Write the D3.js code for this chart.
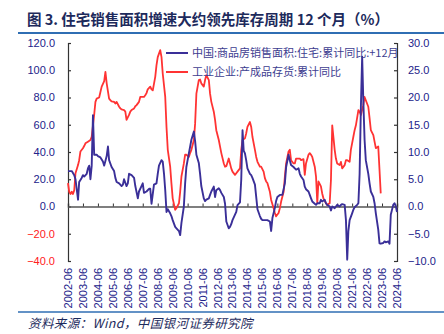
<!DOCTYPE html>
<meta charset="utf-8">
<style>
body { margin: 0; background: #fff; }
svg { display: block; }
.tick-label { font-family: "Liberation Sans", Arial, sans-serif; font-size: 11px; fill: #22228a; }
.cjk { font-family: "Noto Sans CJK SC", sans-serif; }
</style>
<body>
<script src="https://d3js.org/d3.v7.min.js"></script>
<script>

// ---- data ----
// housing sales area, cumulative yoy, shifted +12 months (left axis, %)
var blueDates = ["2002-06","2002-09","2002-11","2002-12","2003-02","2003-03","2003-05","2003-06","2003-07","2003-09","2003-10","2003-11","2003-12",
  "2004-01","2004-02","2004-03","2004-05","2004-06","2004-08","2004-10","2004-11","2005-01","2005-02","2005-03","2005-05","2005-07","2005-08","2005-09","2005-11",
  "2006-01","2006-02","2006-03","2006-05","2006-06","2006-07","2006-09","2006-11","2006-12","2007-02","2007-03","2007-05","2007-06","2007-07","2007-09","2007-11","2007-12",
  "2008-01","2008-03","2008-05","2008-06","2008-07","2008-09","2008-10","2008-11","2008-12","2009-01","2009-02","2009-04","2009-05","2009-06","2009-08","2009-09","2009-11","2009-12",
  "2010-01","2010-03","2010-04","2010-05","2010-07","2010-08","2010-09","2010-11","2010-12","2011-01","2011-03","2011-04","2011-05","2011-07","2011-08","2011-09","2011-11","2011-12",
  "2012-01","2012-03","2012-04","2012-05","2012-07","2012-08","2012-09","2012-11","2012-12","2013-01","2013-03","2013-04","2013-05","2013-06","2013-08","2013-09","2013-10","2013-12",
  "2014-01","2014-02","2014-03","2014-04","2014-05","2014-06","2014-08","2014-09","2014-10","2014-12","2015-01","2015-02","2015-04","2015-05","2015-06","2015-08","2015-09","2015-10","2015-12",
  "2016-01","2016-02","2016-04","2016-05","2016-06","2016-08","2016-09","2016-10","2016-12","2017-01","2017-03","2017-04","2017-05","2017-07","2017-08","2017-09","2017-11","2017-12",
  "2018-01","2018-03","2018-04","2018-05","2018-07","2018-08","2018-09","2018-10","2018-12","2019-01","2019-02","2019-04","2019-05","2019-06","2019-08","2019-09","2019-10","2019-12",
  "2020-01","2020-02","2020-04","2020-05","2020-06","2020-08","2020-09","2020-10","2020-12","2021-01","2021-02","2021-03","2021-04","2021-06","2021-07","2021-08","2021-10","2021-11","2021-12",
  "2022-01","2022-02","2022-03","2022-04","2022-05","2022-07","2022-08","2022-09","2022-11","2022-12","2023-01","2023-03","2023-04","2023-05","2023-07","2023-08","2023-09","2023-11","2023-12",
  "2024-01","2024-03","2024-04","2024-05","2024-06"];
var blueValues = [26,26,23,20,5,18,21,23,22,24,28,30,20,
  30,67,38,38,37,36,33,30,37,44,34,29,26,21,18,17,
  15,16,20,15,17,24,23,21,15,6,11,15,17,10,11,13,13,
  2,16,17,24,30,34,33,24,12,-4,-2,-5,-7,-10,-15,-16,-18,-21,
  -12,0,17,29,39,44,49,55,48,38,32,24,15,6,4,5,6,8.5,
  11,14.6,7,12,13.4,12,10,7,2,-11,-16,-15,-13,-10,-6,-4,1,3,
  20,56,41,39,34,28,24,23,21,16,7,-2,-7,-9,-10,-10,-10,-10,-11,
  -18,-8.5,-1,4,7,8.5,8.5,8.5,17,29,38,34,30.5,29,28,27,28,24,
  22,19.5,14.6,12.7,11,8.5,6,3.7,2,1.2,2.4,2.4,4.9,3.7,4.9,2.4,1.2,0,
  -2.9,0,-1.2,0,1.2,0,1.2,1.7,1.2,-10,-39,-18,-10,-5,-2.4,-0.5,1.2,2.4,24,
  73,110,78,49,34,24,17,11,7,2.4,-5,-17,-27,-27.3,-26.8,-25.6,-26.3,-25.6,-27.3,
  -6,1.2,2.4,0.5,-4];

// industrial finished goods inventory, cumulative yoy (right axis, %)
var redDates = ["2002-06","2002-07","2002-08","2002-09","2002-10","2002-11","2002-12","2003-02","2003-03","2003-04","2003-06","2003-07","2003-08","2003-10","2003-12",
  "2004-01","2004-03","2004-04","2004-05","2004-07","2004-08","2004-09","2004-11","2004-12","2005-01","2005-03","2005-04","2005-05","2005-07","2005-08","2005-09","2005-11","2005-12",
  "2006-01","2006-03","2006-04","2006-05","2006-07","2006-08","2006-09","2006-11","2006-12","2007-01","2007-03","2007-04","2007-05","2007-07","2007-08","2007-09","2007-10","2007-12",
  "2008-01","2008-02","2008-04","2008-05","2008-06","2008-08","2008-09","2008-10","2008-12","2009-01","2009-02","2009-04","2009-05","2009-06","2009-08","2009-09","2009-11","2009-12",
  "2010-01","2010-03","2010-04","2010-05","2010-07","2010-08","2010-09","2010-11","2010-12","2011-01","2011-03","2011-04","2011-05","2011-07","2011-08","2011-09","2011-11","2011-12",
  "2012-01","2012-03","2012-04","2012-05","2012-07","2012-08","2012-09","2012-11","2012-12","2013-01","2013-03","2013-04","2013-05","2013-06","2013-08","2013-09","2013-10","2013-12",
  "2014-01","2014-02","2014-04","2014-05","2014-06","2014-08","2014-09","2014-10","2014-12","2015-01","2015-02","2015-04","2015-05","2015-07","2015-08","2015-09","2015-10","2015-12",
  "2016-01","2016-03","2016-04","2016-05","2016-07","2016-08","2016-09","2016-11","2016-12","2017-01","2017-03","2017-04","2017-05","2017-07","2017-08","2017-09","2017-11","2017-12",
  "2018-01","2018-03","2018-04","2018-05","2018-07","2018-08","2018-09","2018-10","2018-12","2019-01","2019-02","2019-03","2019-05","2019-06","2019-07","2019-09","2019-10","2019-12",
  "2020-01","2020-02","2020-04","2020-05","2020-06","2020-08","2020-09","2020-10","2020-12","2021-01","2021-02","2021-04","2021-05","2021-07","2021-08","2021-09","2021-11","2021-12",
  "2022-01","2022-03","2022-04","2022-05","2022-07","2022-08","2022-09","2022-11","2022-12","2023-01","2023-03","2023-04","2023-05"];
var redValues = [4.3,2.7,2.3,2.7,2.3,3.0,6.1,7.6,8.5,10.1,10.7,11.1,11.6,11.9,12.2,
  12.8,16.8,19.2,19.8,20,21,22,23,24.7,22.6,19.8,19.5,19.3,19.2,18.9,19.2,18.3,18,
  17.8,17.7,17.4,15.9,16.8,17.4,17.7,18,18.4,18.6,19.2,20.1,20.1,20.1,20.4,20.8,21.5,22,
  21.5,21.3,23.8,25.9,27.4,28.7,27.4,24.4,20.1,14.6,10.4,7.3,4.3,1.5,-0.6,-0.3,0.6,2.7,
  5.5,7.9,9.5,9.5,9.1,9.8,10.4,12.2,15.2,20.7,23.2,23.3,22.6,22,23.2,24.1,23.2,20.7,
  19.2,17.4,15.9,14,12.2,11,9.8,7.9,7.3,7.4,8.8,7.9,7,6.4,5.8,6.1,6.4,7,
  10.4,12.2,12.5,13.4,14.6,15.5,14.6,12.8,10.4,9.1,8.2,7.3,7.3,6.4,5.2,4.6,4.3,2.7,
  1.2,-0.3,-1.2,-1.8,-1.2,-0.3,0.9,2.7,5.5,7.9,10.1,10.4,8.5,7.9,7.9,8.8,8.8,8.8,
  8.5,8.7,5.8,7.9,9.5,9.8,9.5,9.1,7.3,5.5,0.6,4.6,3.7,2.4,1.5,0.6,0.3,0.6,
  4.9,14.9,10.4,8.8,7.9,7.6,8.2,7,7.6,8.5,8.5,8.2,10.4,12.8,14,14.9,17.7,17.4,
  16.8,18.6,20.1,19.5,18.3,16.2,14,13.1,11.9,10.7,11,6.7,2.4];

var yearTicks = ["2002-06","2003-06","2004-06","2005-06","2006-06","2007-06","2008-06","2009-06","2010-06","2011-06","2012-06",
  "2013-06","2014-06","2015-06","2016-06","2017-06","2018-06","2019-06","2020-06","2021-06","2022-06","2023-06","2024-06"];
var leftTicks = [120, 100, 80, 60, 40, 20, 0, -20, -40];
var rightTicks = [30, 25, 20, 15, 10, 5, 0, -5, -10];

var titleText = "图 3. 住宅销售面积增速大约领先库存周期 12 个月（%）";
var blueName = "中国:商品房销售面积:住宅:累计同比:+12月";
var redName = "工业企业:产成品存货:累计同比";
var sourceText = "资料来源：Wind，中国银河证券研究院";

// ---- layout ----
var W = 444, H = 334;
var plot = {left: 68, right: 397, top: 43, bottom: 261};
var navy = "#22228a", blueC = "#3a2f98", redC = "#ff3333", ruleC = "#2f6eb3";

var parseMonth = d3.timeParse("%Y-%m");

var x = d3.scaleTime()
    .domain([parseMonth("2002-06"), parseMonth("2024-06")])
    .range([plot.left, plot.right]);
var yL = d3.scaleLinear().domain([-40, 120]).range([plot.bottom, plot.top]);
var yR = d3.scaleLinear().domain([-10, 30]).range([plot.bottom, plot.top]);

var blue = blueDates.map(function(d, i) { return {date: parseMonth(d), value: blueValues[i]}; });
var red = redDates.map(function(d, i) { return {date: parseMonth(d), value: redValues[i]}; });

var svg = d3.select("body").append("svg")
    .attr("width", W)
    .attr("height", H);

svg.append("rect").attr("width", W).attr("height", H).attr("fill", "#fff");

// title + rules
svg.append("text")
    .attr("class", "cjk")
    .attr("x", 27).attr("y", 25)
    .attr("font-size", 14.5).attr("font-weight", "bold")
    .attr("fill", "#1d2a5c")
    .text(titleText);

svg.append("line")
    .attr("x1", 18).attr("x2", W).attr("y1", 33).attr("y2", 33)
    .attr("stroke", ruleC).attr("stroke-width", 2);

svg.append("line")
    .attr("x1", 18).attr("x2", W).attr("y1", 312).attr("y2", 312)
    .attr("stroke", ruleC).attr("stroke-width", 1.5);

svg.append("text")
    .attr("x", 28).attr("y", 328)
    .attr("font-family", "'Noto Sans CJK SC', sans-serif")
    .attr("font-size", 12.5).attr("font-style", "italic")
    .attr("letter-spacing", 0.4)
    .attr("fill", "#1d2a5c")
    .text(sourceText);

// left axis
var leftAxis = d3.axisRight(yL).tickValues(leftTicks).tickSize(3).tickFormat("");
svg.append("g")
    .attr("transform", "translate(" + plot.left + ",0)")
    .call(leftAxis)
    .call(function(g) { g.selectAll("path, line").attr("stroke", "#333").attr("stroke-width", 1.2); });

svg.append("g").selectAll("text")
    .data(leftTicks)
  .enter().append("text")
    .attr("class", "tick-label")
    .attr("x", 55)
    .attr("y", function(d) { return yL(d); })
    .attr("dy", "0.36em")
    .attr("text-anchor", "end")
    .style("fill", function(d) { return d < 0 ? "#ff2020" : navy; })
    .text(d3.format(".1f"));

// right axis
var rightAxis = d3.axisLeft(yR).tickValues(rightTicks).tickSize(3).tickFormat("");
svg.append("g")
    .attr("transform", "translate(" + plot.right + ",0)")
    .call(rightAxis)
    .call(function(g) { g.selectAll("path, line").attr("stroke", "#333").attr("stroke-width", 1.2); });

svg.append("g").selectAll("text")
    .data(rightTicks)
  .enter().append("text")
    .attr("class", "tick-label")
    .attr("x", 408)
    .attr("y", function(d) { return yR(d); })
    .attr("dy", "0.36em")
    .attr("text-anchor", "start")
    .text(d3.format(".1f"));

// x axis along zero line, ticks pointing up
var xAxis = d3.axisTop(x)
    .tickValues(yearTicks.map(parseMonth))
    .tickSize(3)
    .tickFormat("");
svg.append("g")
    .attr("transform", "translate(0," + yL(0) + ")")
    .call(xAxis)
    .call(function(g) {
      g.select(".domain").attr("stroke", "#555").attr("stroke-width", 1.5);
      g.selectAll(".tick line").attr("stroke", "#333");
    });

svg.append("g").selectAll("text")
    .data(yearTicks)
  .enter().append("text")
    .attr("class", "tick-label")
    .attr("transform", function(d) { return "translate(" + x(parseMonth(d)) + ",268) rotate(-90)"; })
    .attr("dy", "0.36em")
    .attr("text-anchor", "end")
    .text(function(d) { return d; });

// series
var lineL = d3.line().x(function(d) { return x(d.date); }).y(function(d) { return yL(d.value); });
var lineR = d3.line().x(function(d) { return x(d.date); }).y(function(d) { return yR(d.value); });

svg.append("path")
    .datum(red)
    .attr("fill", "none").attr("stroke", redC).attr("stroke-width", 1.8)
    .attr("stroke-linejoin", "round")
    .attr("d", lineR);

svg.append("path")
    .datum(blue)
    .attr("fill", "none").attr("stroke", blueC).attr("stroke-width", 1.9)
    .attr("stroke-linejoin", "round")
    .attr("d", lineL);

// legend
var legend = svg.append("g");
[{name: blueName, color: blueC, y: 53}, {name: redName, color: redC, y: 72}].forEach(function(l) {
  legend.append("line")
      .attr("x1", 166).attr("x2", 188).attr("y1", l.y).attr("y2", l.y)
      .attr("stroke", l.color).attr("stroke-width", 2);
  legend.append("text")
      .attr("class", "cjk")
      .attr("x", 192).attr("y", l.y).attr("dy", "0.36em")
      .attr("font-size", 11)
      .attr("fill", "#3d3d90")
      .text(l.name);
});

</script>
</body>
